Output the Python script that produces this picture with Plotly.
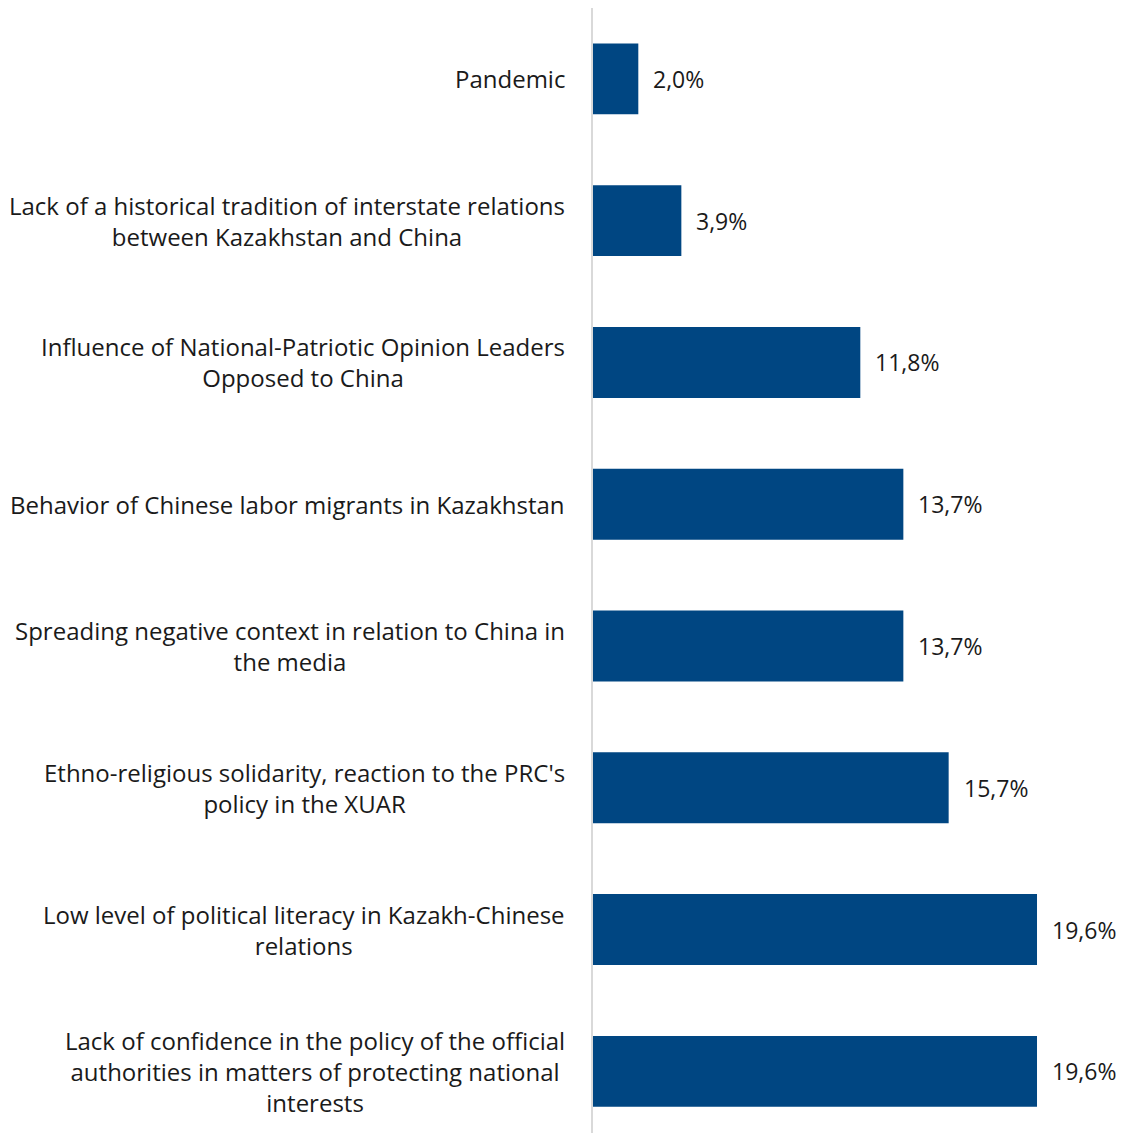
import plotly.graph_objects as go

categories = [
    "Pandemic",
    "Lack of a historical tradition of interstate relations<br>between Kazakhstan and China",
    "Influence of National-Patriotic Opinion Leaders<br>Opposed to China",
    "Behavior of Chinese labor migrants in Kazakhstan",
    "Spreading negative context in relation to China in<br>the media",
    "Ethno-religious solidarity, reaction to the PRC's<br>policy in the XUAR",
    "Low level of political literacy in Kazakh-Chinese<br>relations",
    "Lack of confidence in the policy of the official<br>authorities in matters of protecting national<br>interests",
]
values = [2.0, 3.9, 11.8, 13.7, 13.7, 15.7, 19.6, 19.6]
value_labels = ["2,0%", "3,9%", "11,8%", "13,7%", "13,7%", "15,7%", "19,6%", "19,6%"]

FONT = "Open Sans"
positions = list(range(len(categories)))

fig = go.Figure()
fig.add_trace(go.Bar(
    x=values, y=positions, orientation="h",
    marker=dict(color="#004682", line=dict(width=0)),
    width=0.5, hoverinfo="skip",
))

annotations = []
for i, (cat, v, lab) in enumerate(zip(categories, values, value_labels)):
    annotations.append(dict(
        x=0, xref="paper", y=i, yref="y", text=cat, showarrow=False,
        xanchor="right", yanchor="middle", align="center", xshift=-26,
        font=dict(family=FONT, size=24, color="#1a1a1a"),
    ))
    annotations.append(dict(
        x=v, xref="x", y=i, yref="y", text=lab, showarrow=False,
        xanchor="left", yanchor="middle", xshift=13,
        font=dict(family=FONT, size=23, color="#1a1a1a"),
    ))

fig.update_layout(
    width=1116, height=1125, autosize=False,
    margin=dict(l=585, r=0, t=0, b=0, pad=0),
    paper_bgcolor="white", plot_bgcolor="white",
    showlegend=False,
    annotations=annotations,
    xaxis=dict(range=[0, 23.44], visible=False, showgrid=False, zeroline=False),
    yaxis=dict(range=[7.435, -0.5], showticklabels=False, showgrid=False,
               zeroline=False, showline=True, linecolor="#d9d9d9", linewidth=2,
               ticks=""),
)

fig.write_html("out.html")
